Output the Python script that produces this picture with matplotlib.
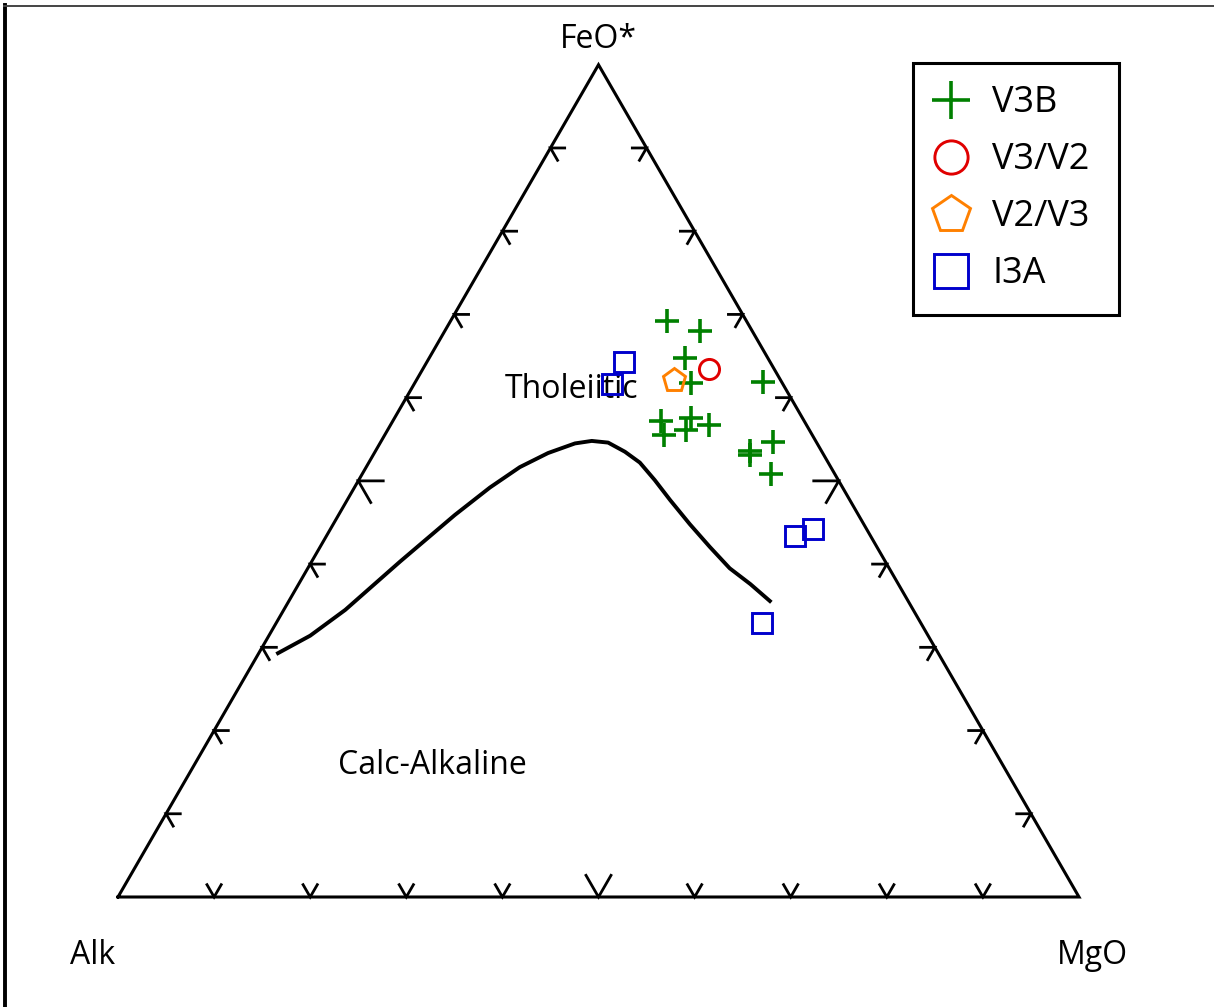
import numpy as np
import matplotlib
matplotlib.use("Agg")
import matplotlib.pyplot as plt
from matplotlib.lines import Line2D

plt.rcParams['font.family'] = ['Open Sans', 'DejaVu Sans']

# =========================================================
# Data (percent Alk, FeO*, MgO)
# =========================================================
V3B_ALK = [8.3, 5.4, 8.6, 9.5, 1.9, 14.9, 15.4, 11.6, 12.8, 10.2, 7.4, 7.7, 4.5, 6.7]
V3B_FEO = [69.2, 68.0, 64.8, 61.8, 61.9, 57.2, 55.5, 57.5, 56.1, 56.7, 53.6, 53.1, 54.7, 50.8]
V3B_MGO = [22.5, 26.6, 26.6, 28.7, 36.2, 27.9, 29.1, 30.9, 31.1, 33.1, 39.0, 39.2, 40.8, 42.5]

V32_ALK = [6.7]
V32_FEO = [63.5]
V32_MGO = [29.8]

V23_ALK = [11.1]
V23_FEO = [62.1]
V23_MGO = [26.8]

I3A_ALK = [15.2, 17.8, 7.9, 5.6, 16.5]
I3A_FEO = [64.3, 61.6, 43.4, 44.2, 32.9]
I3A_MGO = [20.5, 20.6, 48.7, 50.2, 50.6]

# Tholeiitic / calc-alkaline dividing line
LINE_ALK = [68.7, 64.3, 59.1, 50.5, 42.0, 36.7, 32.4, 28.6, 25.2, 23.3, 21.7,
            20.5, 19.6, 19.1, 18.7, 18.1, 17.4, 16.6, 15.4, 14.4]
LINE_FEO = [29.3, 31.4, 34.5, 40.3, 45.9, 49.2, 51.7, 53.4, 54.5, 54.8, 54.6,
            53.5, 52.2, 50.1, 47.7, 44.8, 42.1, 39.5, 37.6, 35.6]
LINE_MGO = [2.0, 4.3, 6.4, 9.2, 12.1, 14.1, 16.0, 18.1, 20.3, 21.9, 23.7,
            26.0, 28.2, 30.8, 33.6, 37.1, 40.6, 43.9, 47.0, 50.1]

TICKS = [0.1, 0.2, 0.3, 0.4, 0.5, 0.6, 0.7, 0.8, 0.9]

# =========================================================
# Helpers
# =========================================================
H = np.sqrt(3) / 2


def tern(a, f, m):
    a, f, m = np.asarray(a, float), np.asarray(f, float), np.asarray(m, float)
    s = a + f + m
    return (m + 0.5 * f) / s, H * f / s


def rot(v, deg):
    t = np.deg2rad(deg)
    return np.array([v[0] * np.cos(t) - v[1] * np.sin(t),
                     v[0] * np.sin(t) + v[1] * np.cos(t)])


# =========================================================
# Figure
# =========================================================
W, HGT = 1214, 1007
fig = plt.figure(figsize=(W / 100, HGT / 100), dpi=100)
ax = fig.add_axes([0, 0, 1, 1])
S = 961.0
ax.set_xlim(-118 / S, (W - 118) / S)
ax.set_ylim(-110 / S, (HGT - 110) / S)
ax.axis('off')

# frame remnants (left & top)
fig.add_artist(Line2D([5 / W, 5 / W], [0, 1 - 5 / HGT], transform=fig.transFigure,
                      color='black', lw=2.8))
fig.add_artist(Line2D([4 / W, 1], [1 - 6 / HGT, 1 - 6 / HGT], transform=fig.transFigure,
                      color='#444444', lw=1.4))

# triangle
A = np.array([0.0, 0.0])
M = np.array([1.0, 0.0])
F = np.array([0.5, H])
tri = np.array([A, M, F, A])
ax.plot(tri[:, 0], tri[:, 1], color='black', lw=2.2, solid_joinstyle='miter', zorder=2)

# chevron ticks
edges = [(A, M, np.array([0.0, 1.0])),
         (A, F, np.array([H, -0.5])),
         (F, M, np.array([-H, -0.5]))]
for p0, p1, n in edges:
    for t in TICKS:
        p = p0 + t * (p1 - p0)
        L = 0.026 if abs(t - 0.5) < 1e-9 else 0.0148
        a1 = p + L * rot(n, 30)
        a2 = p + L * rot(n, -30)
        ax.plot([a1[0], p[0], a2[0]], [a1[1], p[1], a2[1]], color='black', lw=2.0,
                solid_joinstyle='miter', zorder=2)

# dividing line
lx, ly = tern(LINE_ALK, LINE_FEO, LINE_MGO)
ax.plot(lx, ly, color='black', lw=2.8, zorder=2)

# labels
ax.text(0.5, 0.892, 'FeO*', ha='center', va='center', fontsize=23)
ax.text(-0.026, -0.061, 'Alk', ha='center', va='center', fontsize=23)
ax.text(1.0135, -0.061, 'MgO', ha='center', va='center', fontsize=23)
ax.text(0.4724, 0.5286, 'Tholeiitic', ha='center', va='center', fontsize=23, zorder=1)
ax.text(0.3267, 0.1373, 'Calc-Alkaline', ha='center', va='center', fontsize=23)

# samples
x, y = tern(V3B_ALK, V3B_FEO, V3B_MGO)
ax.plot(x, y, ls='none', marker='+', ms=17, mew=2.6, color='#008000', label='V3B', zorder=3)
x, y = tern(V32_ALK, V32_FEO, V32_MGO)
ax.plot(x, y, ls='none', marker='o', ms=14.5, mew=2.1, mfc='none', mec='#e00000',
        label='V3/V2', zorder=3)
x, y = tern(V23_ALK, V23_FEO, V23_MGO)
ax.plot(x, y, ls='none', marker='p', ms=17, mew=2.1, mfc='none', mec='#ff8000',
        label='V2/V3', zorder=3)
x, y = tern(I3A_ALK, I3A_FEO, I3A_MGO)
ax.plot(x, y, ls='none', marker='s', ms=14.5, mew=2.1, mfc='none', mec='#0000cc',
        label='I3A', zorder=3)

leg = ax.legend(loc='upper left',
                bbox_to_anchor=(913 / W, 1 - 313 / HGT, 206 / W, 250 / HGT),
                bbox_transform=fig.transFigure, mode='expand', borderaxespad=0,
                fontsize=26, markerscale=1.65, frameon=True, fancybox=False,
                edgecolor='black', framealpha=1, handlelength=0.85,
                handletextpad=0.72, labelspacing=0.58, borderpad=0.62)
leg.get_frame().set_linewidth(2.2)

fig.savefig('out.png', dpi=100)
